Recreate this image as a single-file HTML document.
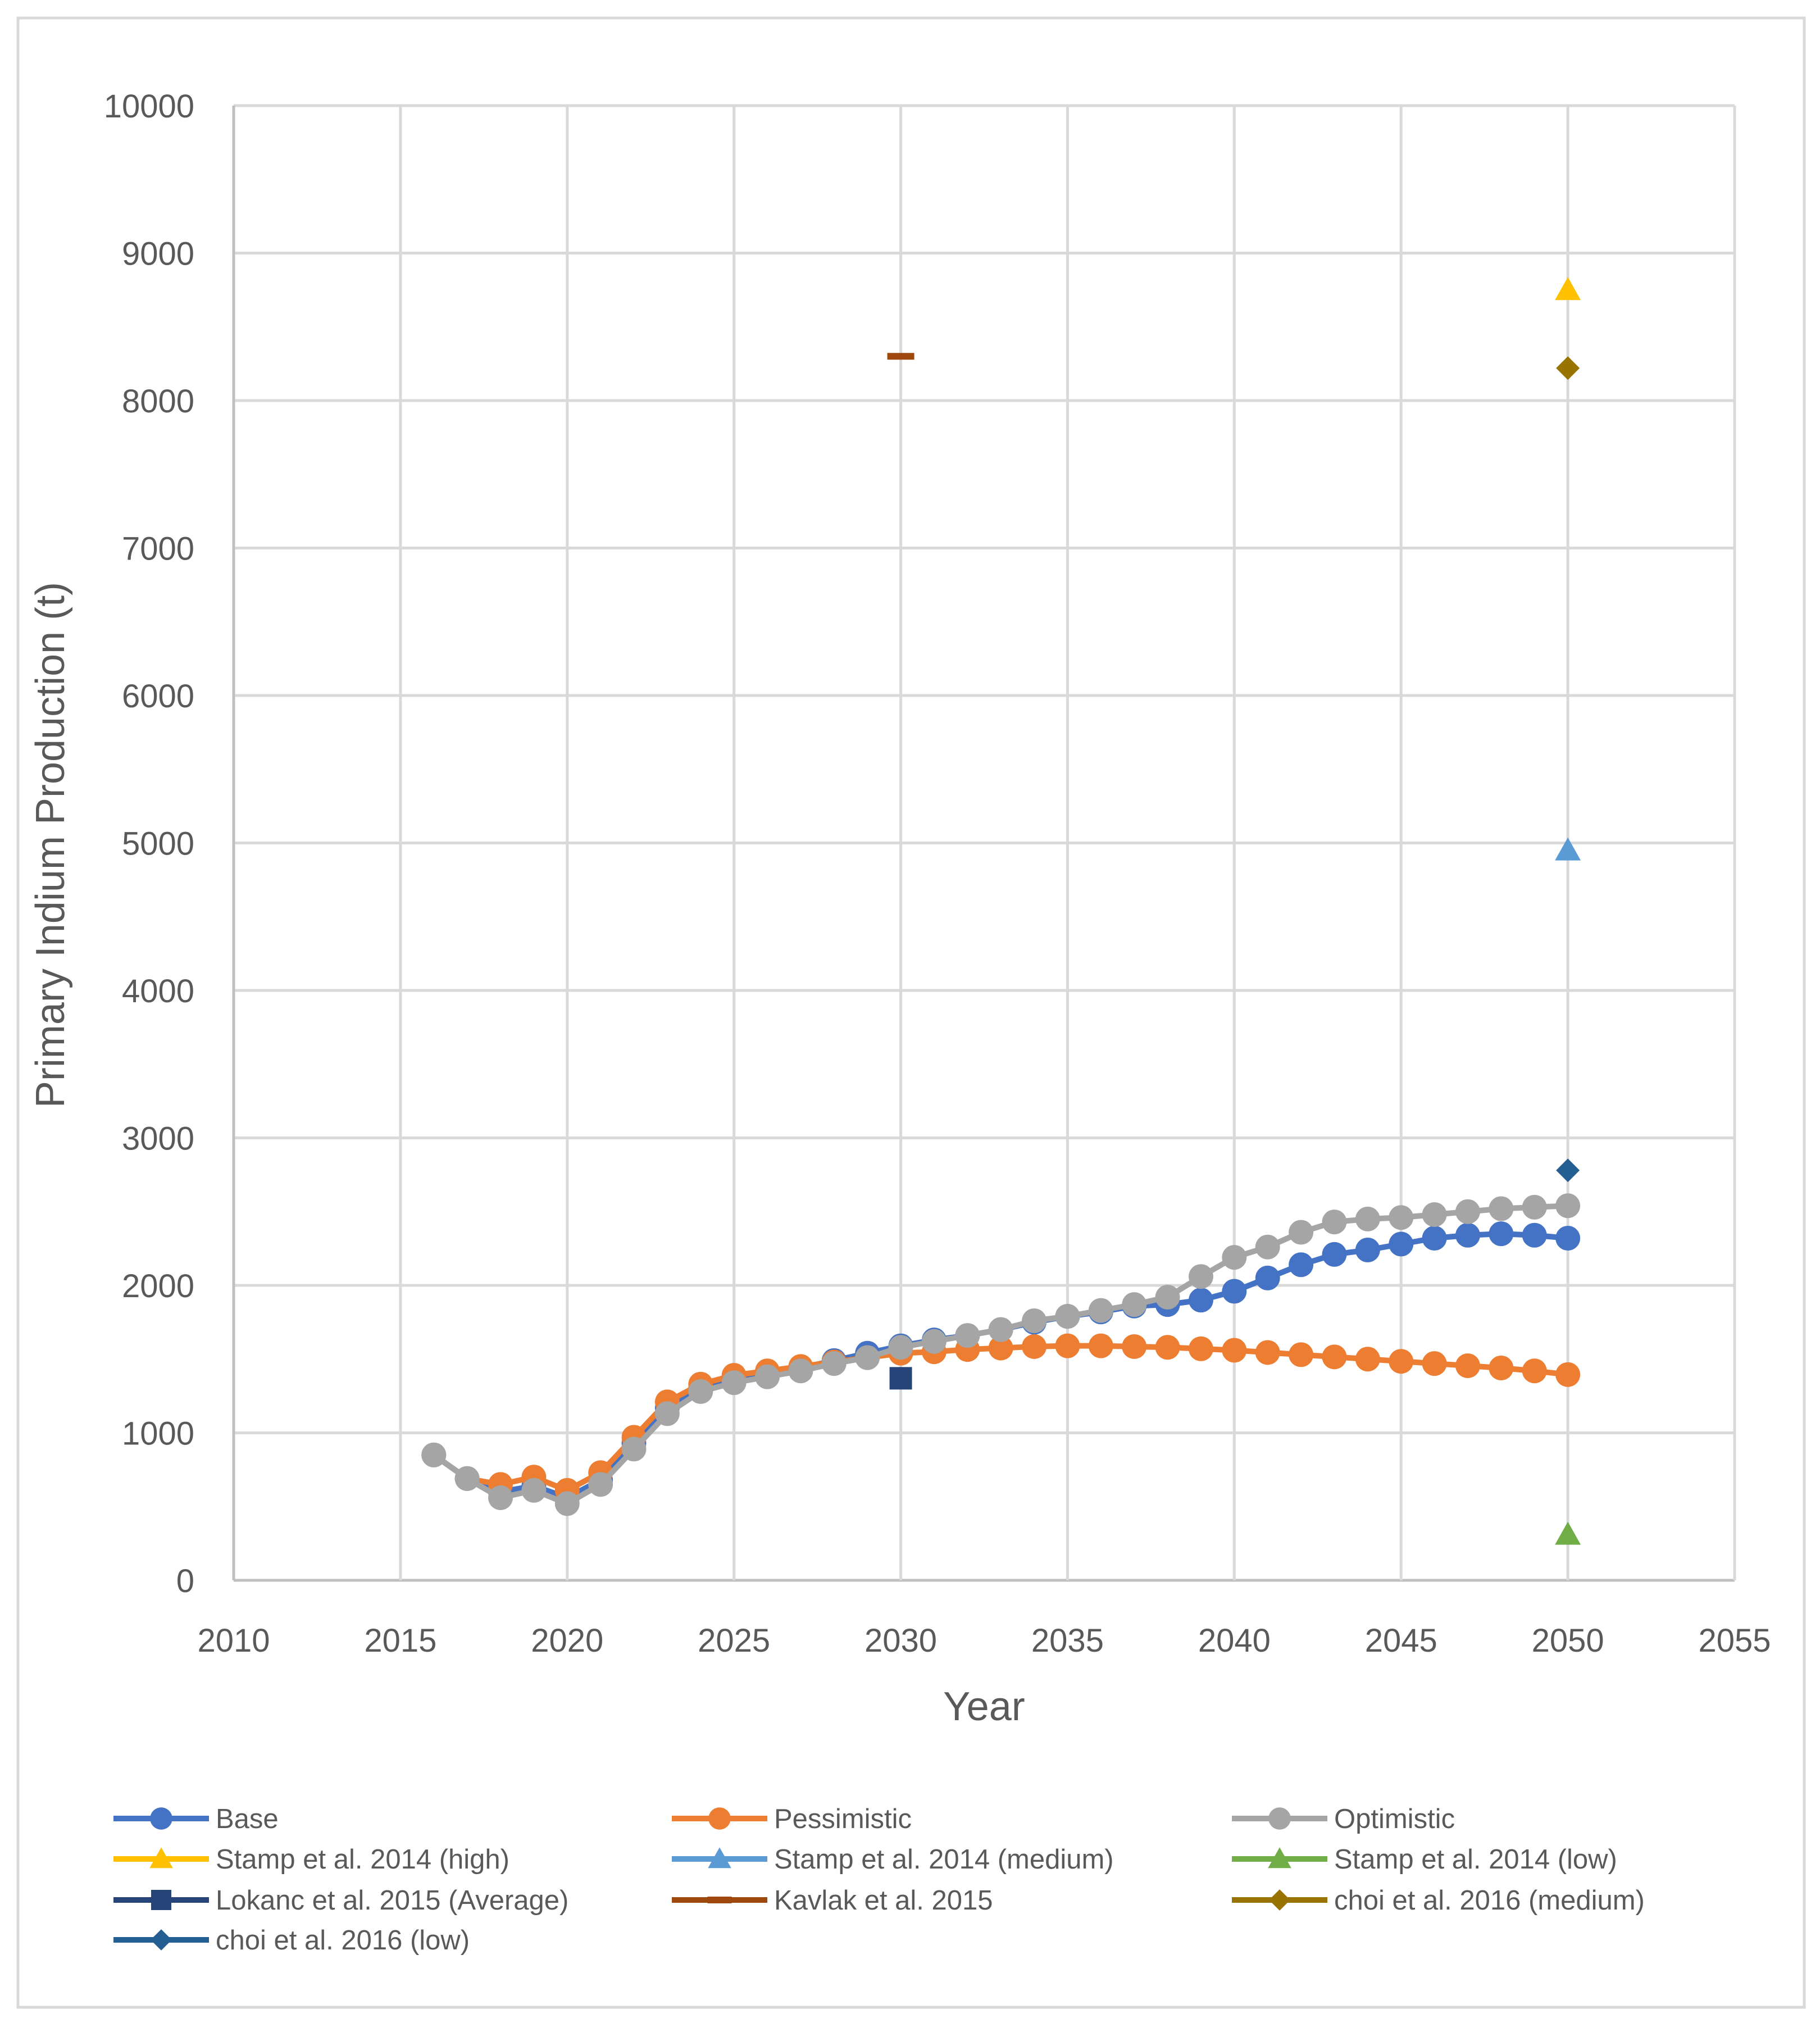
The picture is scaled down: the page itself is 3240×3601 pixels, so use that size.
<!DOCTYPE html>
<html><head><meta charset="utf-8"><style>
body{margin:0;background:#fff;}
svg{display:block;font-family:"Liberation Sans",sans-serif;}
</style></head><body>
<svg id="chart" width="3240" height="3601" viewBox="0 0 3240 3601" xmlns="http://www.w3.org/2000/svg">
<rect x="32" y="32" width="3180" height="3541" fill="#fff" stroke="#d9d9d9" stroke-width="5"/>
<g id="grid"></g><g id="series"></g><g id="legend"></g>
<text x="0" y="0" transform="translate(114,1504) rotate(-90)" text-anchor="middle" font-size="72" fill="#595959">Primary Indium Production (t)</text>
<text x="1752" y="3062" text-anchor="middle" font-size="72" fill="#595959">Year</text>
</svg>
<script>
const years=[];for(let y=2016;y<=2050;y++)years.push(y);
const baseVals=[850,690,600,640,560,680,930,1170,1300,1360,1400,1440,1490,1540,1590,1630,1660,1700,1750,1790,1820,1860,1870,1900,1960,2050,2140,2210,2240,2280,2320,2340,2350,2340,2320];
const pessVals=[850,690,650,700,610,730,970,1210,1330,1390,1420,1450,1480,1510,1540,1550,1565,1575,1585,1590,1590,1585,1580,1570,1560,1545,1530,1515,1500,1485,1470,1455,1440,1420,1395];
const optVals=[850,690,560,610,520,650,890,1130,1280,1340,1380,1420,1470,1510,1580,1620,1660,1700,1760,1790,1830,1870,1920,2060,2190,2260,2360,2430,2450,2460,2480,2500,2520,2530,2540];
const xTicks=[2010,2015,2020,2025,2030,2035,2040,2045,2050,2055];
const yTicks=[0,1000,2000,3000,4000,5000,6000,7000,8000,9000,10000];
const pointNames=["Stamp et al. 2014 (high)","Stamp et al. 2014 (medium)","Stamp et al. 2014 (low)","Lokanc et al. 2015 (Average)","Kavlak et al. 2015","choi et al. 2016 (medium)","choi et al. 2016 (low)"];
const pointYears=[2050,2050,2050,2030,2030,2050,2050];
const pointVals=[8750,4950,310,1370,8300,8220,2780];
const pointColors=["#ffc000","#5b9bd5","#70ad47","#264478","#9e480e","#997300","#255e91"];
const pointShapes=["tri","tri","tri","sq","dash","dia","dia"];
const X0=416,X1=3088,Y0=2813,Y1=188;
const xs=v=>X0+(v-2010)/45*(X1-X0);
const ys=v=>Y0-v/10000*(Y0-Y1);
const NS="http://www.w3.org/2000/svg";
function mk(tag,attrs,parent){const e=document.createElementNS(NS,tag);for(const k in attrs)e.setAttribute(k,attrs[k]);parent.appendChild(e);return e;}
const grid=document.getElementById('grid'),ser=document.getElementById('series'),leg=document.getElementById('legend');
yTicks.forEach(t=>{
  const l=mk('line',{x1:X0,x2:X1,y1:ys(t),y2:ys(t),stroke:t===0?'#bfbfbf':'#d9d9d9','stroke-width':5},grid);
  
  
  const tx=mk('text',{x:346,y:ys(t)+21,'text-anchor':'end','font-size':58,fill:'#595959'},grid);tx.textContent=t;
  
  
});
xTicks.forEach(t=>{
  const l=mk('line',{x1:xs(t),x2:xs(t),y1:Y1,y2:Y0,stroke:t===2010?'#bfbfbf':'#d9d9d9','stroke-width':5},grid);
  
  
  const tx=mk('text',{x:xs(t),y:2940,'text-anchor':'middle','font-size':58,fill:'#595959'},grid);tx.textContent=t;
  
  
});
function marker(shape,cx,cy,color,parent,s){
  let e;
  if(shape==='circ')e=mk('circle',{cx:cx,cy:cy,r:22*s,fill:color},parent);
  else if(shape==='tri')e=mk('polygon',{points:`${cx},${cy-23*s} ${cx+23*s},${cy+18*s} ${cx-23*s},${cy+18*s}`,fill:color},parent);
  else if(shape==='sq')e=mk('rect',{x:cx-20*s,y:cy-20*s,width:40*s,height:40*s,fill:color},parent);
  else if(shape==='dia')e=mk('polygon',{points:`${cx},${cy-21*s} ${cx+21*s},${cy} ${cx},${cy+21*s} ${cx-21*s},${cy}`,fill:color},parent);
  else e=mk('rect',{x:cx-24*s,y:cy-6,width:48*s,height:12,fill:color},parent);
  return e;
}
const lineSeries=[["Base",baseVals,"#4472c4"],["Pessimistic",pessVals,"#ed7d31"],["Optimistic",optVals,"#a5a5a5"]];
lineSeries.forEach(([name,vals,c])=>{
  const g=mk('g',{},ser);
  
  
  mk('polyline',{points:vals.map((v,i)=>xs(years[i])+','+ys(v)).join(' '),fill:'none',stroke:c,'stroke-width':10,'stroke-linejoin':'round'},g);
  vals.forEach((v,i)=>{const m=marker('circ',xs(years[i]),ys(v),c,g,1);
    
    });
});
pointNames.forEach((n,i)=>{
  const m=marker(pointShapes[i],xs(pointYears[i]),ys(pointVals[i]),pointColors[i],ser,1);
  
  
});
const legNames=["Base","Pessimistic","Optimistic"].concat(pointNames);
const legColors=["#4472c4","#ed7d31","#a5a5a5"].concat(pointColors);
const legShapes=["circ","circ","circ"].concat(pointShapes);
const colX=[202,1196,2193],rowY=[3237,3309,3382,3453];
legNames.forEach((n,i)=>{
  const cx=colX[i%3],cy=rowY[Math.floor(i/3)];
  const g=mk('g',{},leg);
  
  
  mk('line',{x1:cx,x2:cx+170,y1:cy,y2:cy,stroke:legColors[i],'stroke-width':10},g);
  marker(legShapes[i],cx+85,cy,legColors[i],g,0.9);
  const t=mk('text',{x:cx+182,y:cy+17,'font-size':49,fill:'#595959'},g);t.textContent=n;
});
</script>
</body></html>
